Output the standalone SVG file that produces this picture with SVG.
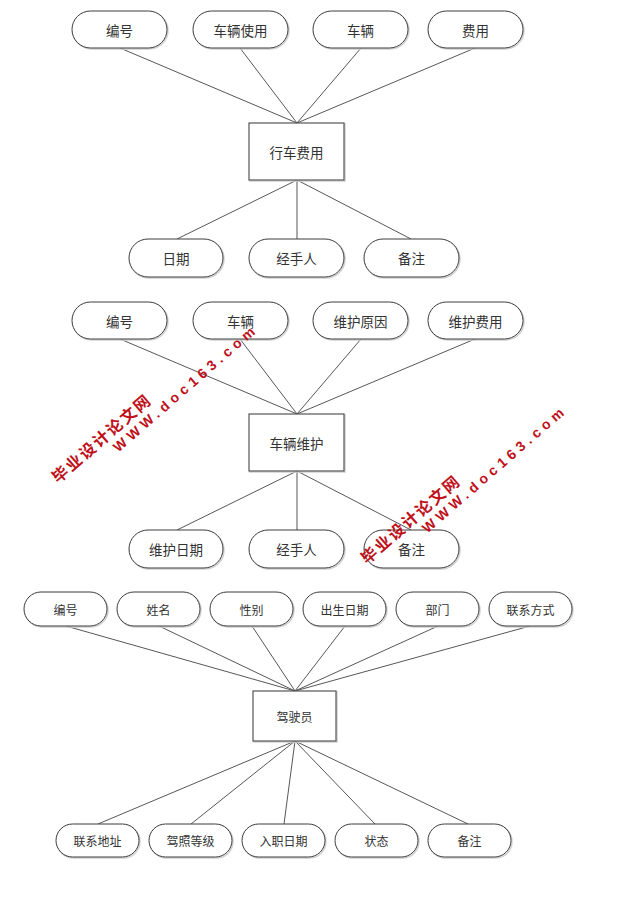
<svg xmlns="http://www.w3.org/2000/svg" width="620" height="903" viewBox="0 0 620 903">
<style>
.pill{fill:#fff;stroke:#3c3c3c;stroke-width:1}
.ent{fill:#fff;stroke:#555;stroke-width:1.2}
.sh{fill:none;stroke:#d0d0d0;stroke-width:1.5}
.t{font-family:"Noto Sans CJK SC","Liberation Sans",sans-serif;font-size:13.5px;fill:#333;text-anchor:middle;dominant-baseline:central}
.s{font-size:12px}
.con line{stroke:#444;stroke-width:0.9}
.wm{font-family:"Liberation Sans","Noto Sans CJK SC",sans-serif;font-weight:bold;fill:#c0101a}
</style>
<rect width="620" height="903" fill="#fff"/>
<g id="connectors" class="con">
<line x1="120" y1="48" x2="297" y2="123"/>
<line x1="240" y1="48" x2="297" y2="123"/>
<line x1="361" y1="48" x2="297" y2="123"/>
<line x1="475" y1="48" x2="297" y2="123"/>
<line x1="297" y1="180" x2="177" y2="239"/>
<line x1="297" y1="180" x2="297" y2="239"/>
<line x1="297" y1="180" x2="411" y2="239"/>
<line x1="120" y1="339" x2="297" y2="414"/>
<line x1="240" y1="339" x2="297" y2="414"/>
<line x1="361" y1="339" x2="297" y2="414"/>
<line x1="475" y1="339" x2="297" y2="414"/>
<line x1="297" y1="471" x2="177" y2="530"/>
<line x1="297" y1="471" x2="297" y2="530"/>
<line x1="297" y1="471" x2="411" y2="530"/>
<line x1="66" y1="626" x2="295" y2="691"/>
<line x1="159" y1="626" x2="295" y2="691"/>
<line x1="252" y1="626" x2="295" y2="691"/>
<line x1="345" y1="626" x2="295" y2="691"/>
<line x1="438" y1="626" x2="295" y2="691"/>
<line x1="530" y1="626" x2="295" y2="691"/>
<line x1="295" y1="741" x2="98" y2="824"/>
<line x1="295" y1="741" x2="191" y2="824"/>
<line x1="295" y1="741" x2="284" y2="824"/>
<line x1="295" y1="741" x2="375" y2="824"/>
<line x1="295" y1="741" x2="468" y2="824"/>
</g>
<!-- Section 1 -->
<g id="a1"><rect class="sh" x="73" y="12" width="95" height="37" rx="18.5"/><rect class="pill" x="72" y="11" width="95" height="37" rx="18.5"/><text class="t" x="119.5" y="29.5">编号</text></g>
<g id="a2"><rect class="sh" x="194" y="12" width="95" height="37" rx="18.5"/><rect class="pill" x="193" y="11" width="95" height="37" rx="18.5"/><text class="t" x="240.5" y="29.5">车辆使用</text></g>
<g id="a3"><rect class="sh" x="314" y="12" width="95" height="37" rx="18.5"/><rect class="pill" x="313" y="11" width="95" height="37" rx="18.5"/><text class="t" x="360.5" y="29.5">车辆</text></g>
<g id="a4"><rect class="sh" x="429" y="12" width="95" height="37" rx="18.5"/><rect class="pill" x="428" y="11" width="95" height="37" rx="18.5"/><text class="t" x="475.5" y="29.5">费用</text></g>
<g id="e1"><rect class="sh" x="250" y="124" width="95" height="57"/><rect class="ent" x="249" y="123" width="95" height="57"/><text class="t" x="296.5" y="151.5">行车费用</text></g>
<g id="a5"><rect class="sh" x="130" y="240" width="94" height="38" rx="19"/><rect class="pill" x="129" y="239" width="94" height="38" rx="19"/><text class="t" x="176" y="258">日期</text></g>
<g id="a6"><rect class="sh" x="250" y="240" width="95" height="38" rx="19"/><rect class="pill" x="249" y="239" width="95" height="38" rx="19"/><text class="t" x="296.5" y="258">经手人</text></g>
<g id="a7"><rect class="sh" x="365" y="240" width="95" height="38" rx="19"/><rect class="pill" x="364" y="239" width="95" height="38" rx="19"/><text class="t" x="411.5" y="258">备注</text></g>
<!-- Section 2 -->
<g id="b1"><rect class="sh" x="73" y="303" width="95" height="37" rx="18.5"/><rect class="pill" x="72" y="302" width="95" height="37" rx="18.5"/><text class="t" x="119.5" y="320.5">编号</text></g>
<g id="b2"><rect class="sh" x="194" y="303" width="95" height="37" rx="18.5"/><rect class="pill" x="193" y="302" width="95" height="37" rx="18.5"/><text class="t" x="240.5" y="320.5">车辆</text></g>
<g id="b3"><rect class="sh" x="314" y="303" width="95" height="37" rx="18.5"/><rect class="pill" x="313" y="302" width="95" height="37" rx="18.5"/><text class="t" x="360.5" y="320.5">维护原因</text></g>
<g id="b4"><rect class="sh" x="429" y="303" width="95" height="37" rx="18.5"/><rect class="pill" x="428" y="302" width="95" height="37" rx="18.5"/><text class="t" x="475.5" y="320.5">维护费用</text></g>
<g id="e2"><rect class="sh" x="250" y="415" width="95" height="57"/><rect class="ent" x="249" y="414" width="95" height="57"/><text class="t" x="296.5" y="442.5">车辆维护</text></g>
<g id="b5"><rect class="sh" x="130" y="531" width="94" height="38" rx="19"/><rect class="pill" x="129" y="530" width="94" height="38" rx="19"/><text class="t" x="176" y="549">维护日期</text></g>
<g id="b6"><rect class="sh" x="250" y="531" width="95" height="38" rx="19"/><rect class="pill" x="249" y="530" width="95" height="38" rx="19"/><text class="t" x="296.5" y="549">经手人</text></g>
<g id="b7"><rect class="sh" x="365" y="531" width="95" height="38" rx="19"/><rect class="pill" x="364" y="530" width="95" height="38" rx="19"/><text class="t" x="411.5" y="549">备注</text></g>
<!-- Section 3 -->
<g id="c1"><rect class="sh" x="25" y="593" width="83" height="34" rx="17"/><rect class="pill" x="24" y="592" width="83" height="34" rx="17"/><text class="t s" x="65.5" y="609">编号</text></g>
<g id="c2"><rect class="sh" x="118" y="593" width="83" height="34" rx="17"/><rect class="pill" x="117" y="592" width="83" height="34" rx="17"/><text class="t s" x="158.5" y="609">姓名</text></g>
<g id="c3"><rect class="sh" x="211" y="593" width="83" height="34" rx="17"/><rect class="pill" x="210" y="592" width="83" height="34" rx="17"/><text class="t s" x="251.5" y="609">性别</text></g>
<g id="c4"><rect class="sh" x="304" y="593" width="83" height="34" rx="17"/><rect class="pill" x="303" y="592" width="83" height="34" rx="17"/><text class="t s" x="344.5" y="609">出生日期</text></g>
<g id="c5"><rect class="sh" x="397" y="593" width="83" height="34" rx="17"/><rect class="pill" x="396" y="592" width="83" height="34" rx="17"/><text class="t s" x="437.5" y="609">部门</text></g>
<g id="c6"><rect class="sh" x="490" y="593" width="83" height="34" rx="17"/><rect class="pill" x="489" y="592" width="83" height="34" rx="17"/><text class="t s" x="530.5" y="609">联系方式</text></g>
<g id="e3"><rect class="sh" x="254" y="692" width="83" height="50"/><rect class="ent" x="253" y="691" width="83" height="50"/><text class="t s" x="294.5" y="716">驾驶员</text></g>
<g id="c7"><rect class="sh" x="57" y="825" width="83" height="33" rx="16.5"/><rect class="pill" x="56" y="824" width="83" height="33" rx="16.5"/><text class="t s" x="97.5" y="840.5">联系地址</text></g>
<g id="c8"><rect class="sh" x="150" y="825" width="83" height="33" rx="16.5"/><rect class="pill" x="149" y="824" width="83" height="33" rx="16.5"/><text class="t s" x="190.5" y="840.5">驾照等级</text></g>
<g id="c9"><rect class="sh" x="243" y="825" width="83" height="33" rx="16.5"/><rect class="pill" x="242" y="824" width="83" height="33" rx="16.5"/><text class="t s" x="283.5" y="840.5">入职日期</text></g>
<g id="c10"><rect class="sh" x="336" y="825" width="83" height="33" rx="16.5"/><rect class="pill" x="335" y="824" width="83" height="33" rx="16.5"/><text class="t s" x="376.5" y="840.5">状态</text></g>
<g id="c11"><rect class="sh" x="429" y="825" width="83" height="33" rx="16.5"/><rect class="pill" x="428" y="824" width="83" height="33" rx="16.5"/><text class="t s" x="469.5" y="840.5">备注</text></g>
<!-- Watermarks -->
<g id="wm1" transform="translate(58,484) rotate(-41)">
<text class="wm" x="0" y="0" font-size="16" letter-spacing="2">毕业设计论文网</text>
<text class="wm" x="66" y="16" font-size="14" letter-spacing="4.5">WWW.doc163.com</text>
</g>
<g id="wm2" transform="translate(367,565) rotate(-41)">
<text class="wm" x="0" y="0" font-size="16" letter-spacing="2">毕业设计论文网</text>
<text class="wm" x="66" y="16" font-size="14" letter-spacing="4.5">WWW.doc163.com</text>
</g>
</svg>
